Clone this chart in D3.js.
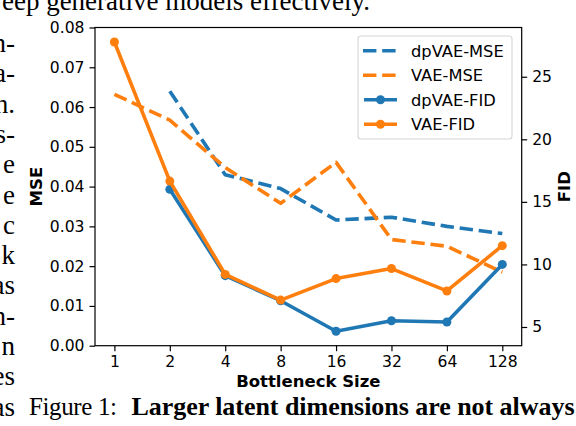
<!DOCTYPE html>
<html>
<head>
<meta charset="utf-8">
<script src="https://d3js.org/d3.v7.min.js"></script>
<style>
    body { margin: 0; background: #fff; }
    svg { display: block; }
    .tick text { font-family: 'DejaVu Sans', sans-serif; font-size: 15.6px; fill: #000; }
    .tick line { stroke: #000; stroke-width: 1.2; }
    .lbl { font-family: 'DejaVu Sans', sans-serif; font-size: 16.5px; font-weight: bold; }
    .paper { font-family: 'Liberation Serif', 'Times New Roman', serif; font-size: 27px; fill: #000; }
    .legend text { font-family: 'DejaVu Sans', sans-serif; font-size: 16.3px; }
</style>
</head>
<body>
<div id="chart"></div>
<script>

const sizes = [1, 2, 4, 8, 16, 32, 64, 128]
const dpvaeMse = [null, 0.0640, 0.0430, 0.0395, 0.0316, 0.0323, 0.0300, 0.0282]
const vaeMse = [0.0632, 0.0567, 0.0448, 0.0358, 0.0461, 0.0267, 0.0250, 0.0185]
const dpvaeFid = [null, 16.0, 9.1, 7.1, 4.66, 5.5, 5.4, 10.0]
const vaeFid = [27.78, 16.66, 9.2, 7.15, 8.87, 9.67, 7.88, 11.5]

const mseTicks = [0, 0.01, 0.02, 0.03, 0.04, 0.05, 0.06, 0.07, 0.08]
const fidTicks = [5, 10, 15, 20, 25]

const topLine = 'eep generative models effectively.'
const sideWords = ['n-', 'a-', 'h.', 's-', 'e', 'e', 'c', 'k', 'as', 'n-', 'n', 'es', 'as']
const captionHead = 'Figure 1:'
const captionBold = 'Larger latent dimensions are not always'

const width = 576
const height = 426
const plot = { left: 95, right: 521.7, top: 27.5, bottom: 345.7 }

const blue = '#1f77b4'
const orange = '#ff7f0e'

const svg = d3.select('#chart')
    .append('svg')
    .attr('width', width)
    .attr('height', height)

svg.append('rect')
    .attr('width', width)
    .attr('height', height)
    .attr('fill', '#fff')

// surrounding paper text
svg.append('text')
    .attr('class', 'paper')
    .attr('x', 370)
    .attr('y', 10)
    .attr('text-anchor', 'end')
    .text(topLine)

svg.append('g')
    .selectAll('text')
    .data(sideWords)
    .join('text')
    .attr('class', 'paper')
    .attr('x', 15)
    .attr('y', (d, i) => 52 + i * 30.3)
    .attr('text-anchor', 'end')
    .text(d => d)

svg.append('text')
    .attr('class', 'paper')
    .attr('x', 29)
    .attr('y', 415)
    .style('font-size', '25px')
    .attr('textLength', 88)
    .attr('lengthAdjust', 'spacing')
    .text(captionHead)

svg.append('text')
    .attr('class', 'paper')
    .attr('x', 131.5)
    .attr('y', 415)
    .attr('font-weight', 'bold')
    .style('font-size', '26px')
    .attr('textLength', 443)
    .attr('lengthAdjust', 'spacing')
    .text(captionBold)

// scales
const xScale = d3.scaleLog()
    .base(2)
    .domain([Math.pow(2, -0.35), Math.pow(2, 7.35)])
    .range([plot.left, plot.right])

const mseScale = d3.scaleLinear()
    .domain([0, 0.08])
    .range([plot.bottom, plot.top])

const fidExtent = d3.extent(dpvaeFid.concat(vaeFid).filter(d => d != null))
const fidPad = (fidExtent[1] - fidExtent[0]) * 0.05
const fidScale = d3.scaleLinear()
    .domain([fidExtent[0] - fidPad, fidExtent[1] + fidPad])
    .range([plot.bottom, plot.top])

const ctr = svg.append('g')

const series = [
    { name: 'dpVAE-MSE', values: dpvaeMse, y: mseScale, color: blue, dashed: true },
    { name: 'VAE-MSE', values: vaeMse, y: mseScale, color: orange, dashed: true },
    { name: 'dpVAE-FID', values: dpvaeFid, y: fidScale, color: blue, dashed: false },
    { name: 'VAE-FID', values: vaeFid, y: fidScale, color: orange, dashed: false }
]

const dash = '13.4,5.8'
const lw = 3.6

series.forEach(s => {
    const pts = sizes.map((x, i) => [x, s.values[i]]).filter(p => p[1] != null)
    const line = d3.line()
        .x(p => xScale(p[0]))
        .y(p => s.y(p[1]))

    ctr.append('path')
        .datum(pts)
        .attr('d', line)
        .attr('fill', 'none')
        .attr('stroke', s.color)
        .attr('stroke-width', lw)
        .attr('stroke-linejoin', 'round')
        .attr('stroke-dasharray', s.dashed ? dash : null)

    if (!s.dashed) {
        ctr.append('g')
            .selectAll('circle')
            .data(pts)
            .join('circle')
            .attr('cx', p => xScale(p[0]))
            .attr('cy', p => s.y(p[1]))
            .attr('r', 4.5)
            .attr('fill', s.color)
    }
})

// axes
svg.append('g')
    .attr('transform', `translate(0,${plot.bottom})`)
    .call(d3.axisBottom(xScale).tickValues(sizes).tickFormat(d3.format('d')).tickSize(5.5).tickPadding(5).tickSizeOuter(0))

svg.append('g')
    .attr('transform', `translate(${plot.left},0)`)
    .call(d3.axisLeft(mseScale).tickValues(mseTicks).tickFormat(d3.format('.2f')).tickSize(5.5).tickPadding(5).tickSizeOuter(0))

svg.append('g')
    .attr('transform', `translate(${plot.right},0)`)
    .call(d3.axisRight(fidScale).tickValues(fidTicks).tickFormat(d3.format('d')).tickSize(5.5).tickPadding(5).tickSizeOuter(0))

svg.selectAll('.domain').remove()

svg.append('rect')
    .attr('x', plot.left)
    .attr('y', plot.top)
    .attr('width', plot.right - plot.left)
    .attr('height', plot.bottom - plot.top)
    .attr('fill', 'none')
    .attr('stroke', '#000')
    .attr('stroke-width', 1.2)

svg.append('text')
    .attr('class', 'lbl')
    .attr('x', (plot.left + plot.right) / 2)
    .attr('y', 387)
    .attr('text-anchor', 'middle')
    .text('Bottleneck Size')

svg.append('text')
    .attr('class', 'lbl')
    .attr('transform', `translate(41.5,${(plot.top + plot.bottom) / 2}) rotate(-90)`)
    .attr('text-anchor', 'middle')
    .text('MSE')

svg.append('text')
    .attr('class', 'lbl')
    .attr('transform', `translate(570,${(plot.top + plot.bottom) / 2}) rotate(-90)`)
    .attr('text-anchor', 'middle')
    .text('FID')

// legend
const legend = svg.append('g').attr('class', 'legend')

legend.append('rect')
    .attr('x', 358)
    .attr('y', 36)
    .attr('width', 154)
    .attr('height', 103)
    .attr('rx', 3)
    .attr('fill', '#fff')
    .attr('fill-opacity', 0.8)
    .attr('stroke', '#d6d6d6')
    .attr('stroke-width', 1.1)

const items = legend.selectAll('g.item')
    .data(series)
    .join('g')
    .attr('class', 'item')
    .attr('transform', (d, i) => `translate(0,${50.7 + i * 24.5})`)

items.append('line')
    .attr('x1', d => d.dashed ? 363 : 364)
    .attr('x2', 397)
    .attr('stroke', d => d.color)
    .attr('stroke-width', lw)
    .attr('stroke-dasharray', d => d.dashed ? dash : null)

items.filter(d => !d.dashed)
    .append('circle')
    .attr('cx', 380.5)
    .attr('r', 4.5)
    .attr('fill', d => d.color)

items.append('text')
    .attr('x', 411)
    .attr('dy', '0.36em')
    .text(d => d.name)

</script>
</body>
</html>
